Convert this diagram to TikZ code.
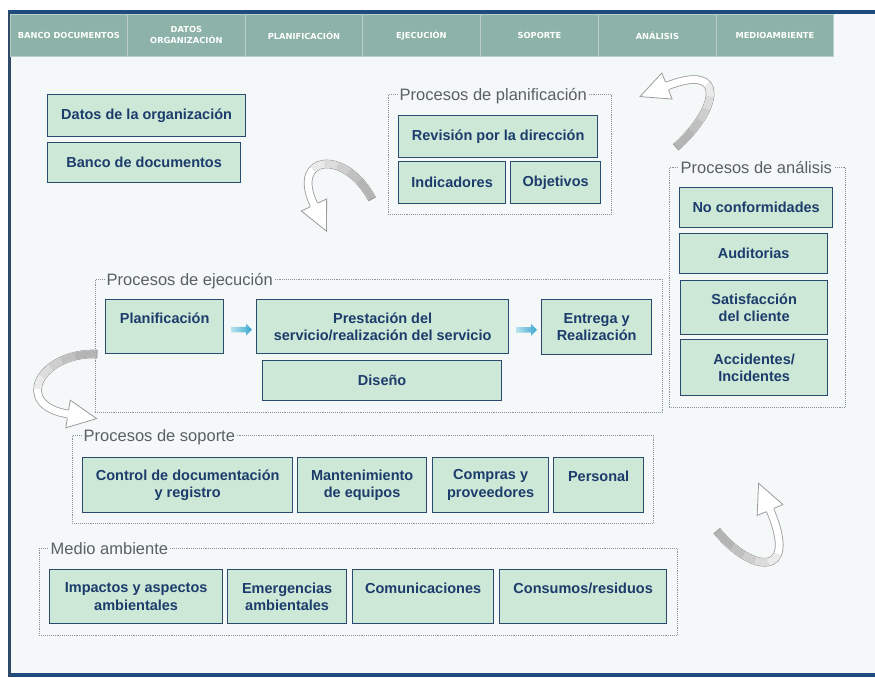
\documentclass[tikz,border=0pt]{standalone}
\usepackage{fontspec}
\setmainfont{Liberation Sans}
\newfontfamily\tabfont{DejaVu Sans}
\usetikzlibrary{shapes.arrows,calc}
\definecolor{bgc}{HTML}{F4F8F8}
\definecolor{framec}{HTML}{1F4C80}
\definecolor{leftc}{HTML}{2E4A66}
\definecolor{tabc}{HTML}{8DB3A8}
\definecolor{tabline}{HTML}{B8D0C8}
\definecolor{boxfill}{HTML}{CDE8D6}
\definecolor{boxline}{HTML}{2A4A70}
\definecolor{boxtext}{HTML}{1C3C6C}
\definecolor{grpline}{HTML}{8A9499}
\definecolor{grptext}{HTML}{5A6066}
\definecolor{arrline}{HTML}{9A9A9A}
\definecolor{rib1}{HTML}{EAEAEA}
\definecolor{rib2}{HTML}{DCDCDC}
\definecolor{rib3}{HTML}{CECECE}
\definecolor{rib4}{HTML}{C0C0C0}
\definecolor{rib5}{HTML}{B4B4B4}
\definecolor{flowa}{HTML}{B8E2EE}
\definecolor{flowb}{HTML}{3AA6D0}
% #1 start, #2 control 1, #3 control 2, #4 end (head base)
\newcommand\myribbon[4]{%
  \draw[arrline, line width=0.8pt, double=white, double distance=7pt] (#1) .. controls (#2) and (#3) .. (#4);
  \draw[rib1, line width=7pt, dash pattern=on 75pt off 2000pt] (#1) .. controls (#2) and (#3) .. (#4);
  \draw[rib2, line width=7pt, dash pattern=on 62pt off 2000pt] (#1) .. controls (#2) and (#3) .. (#4);
  \draw[rib3, line width=7pt, dash pattern=on 49pt off 2000pt] (#1) .. controls (#2) and (#3) .. (#4);
  \draw[rib4, line width=7pt, dash pattern=on 36pt off 2000pt] (#1) .. controls (#2) and (#3) .. (#4);
  \draw[rib5, line width=7pt, dash pattern=on 22pt off 2000pt] (#1) .. controls (#2) and (#3) .. (#4);
  \draw[arrline, line width=0.8pt] ($(#1)!4.2pt!90:(#2)$) -- ($(#1)!4.2pt!-90:(#2)$);
  \draw[arrline, fill=white, line width=0.8pt, line join=miter]
    ($(#4)!4.2pt!90:(#3)$) -- ($(#4)!14pt!90:(#3)$) -- ($(#4)!-29pt!(#3)$)
    -- ($(#4)!14pt!-90:(#3)$) -- ($(#4)!4.2pt!-90:(#3)$);
}
\begin{document}
\begin{tikzpicture}[x=1pt,y=-1pt,
  box/.style={draw=boxline, line width=1.3pt, fill=boxfill, text=boxtext, font=\bfseries\fontsize{14.5}{17.5}\selectfont, align=center, anchor=north west, inner sep=0pt},
  tab/.style={fill=tabc, draw=tabline, line width=0.8pt, text=white, font=\tabfont\bfseries\fontsize{8.3}{11}\selectfont, align=center, anchor=north west, minimum height=42pt, inner sep=0pt},
  grp/.style={draw=grpline, densely dotted, line width=0.9pt, anchor=north west, inner sep=0pt},
  grplabel/.style={fill=bgc, text=grptext, font=\fontsize{16.5}{18}\selectfont, inner sep=1.5pt, anchor=base west},
  flow/.style={single arrow, minimum height=21pt, minimum width=12pt, single arrow head extend=3pt, inner sep=2.5pt, left color=flowa, right color=flowb, draw=none}
]
\useasboundingbox (0,0) rectangle (875,677);
% frame
\fill[white] (0,0) rectangle (875,677);
\fill[bgc] (9,12) rectangle (875,675);
\draw[framec, line width=3.5pt] (8,12) -- (875,12);
\draw[framec, line width=3.5pt] (8,675) -- (875,675);
\draw[leftc, line width=2.2pt] (9.5,12) -- (9.5,677);
% tabs
\node[tab, minimum width=117pt] (t1) at (10,14) {BANCO DOCUMENTOS};
\node[tab, minimum width=118pt] (t2) at (127,14) {DATOS\\ORGANIZACIÓN};
\node[tab, minimum width=117pt] (t3) at (245,14) {PLANIFICACIÓN};
\node[tab, minimum width=118pt] (t4) at (362,14) {EJECUCIÓN};
\node[tab, minimum width=118pt] (t5) at (480,14) {SOPORTE};
\node[tab, minimum width=118pt] (t6) at (598,14) {ANÁLISIS};
\node[tab, minimum width=117pt] (t7) at (716,14) {MEDIOAMBIENTE};
% group frames
\node[grp, minimum width=223pt, minimum height=120pt] (gplan) at (388,94) {};
\node[grp, minimum width=176pt, minimum height=240pt] (gana) at (669,167) {};
\node[grp, minimum width=567pt, minimum height=133pt] (gejec) at (95,279) {};
\node[grp, minimum width=581pt, minimum height=88pt] (gsop) at (72,435) {};
\node[grp, minimum width=638pt, minimum height=87pt] (gmed) at (39,548) {};
\node[grplabel] (lplan) at ($(gplan.north west)+(10,6)$) {Procesos de planificación};
\node[grplabel] (lana) at ($(gana.north west)+(10,6)$) {Procesos de análisis};
\node[grplabel] (lejec) at ($(gejec.north west)+(10,6)$) {Procesos de ejecución};
\node[grplabel] (lsop) at ($(gsop.north west)+(10,6)$) {Procesos de soporte};
\node[grplabel] (lmed) at ($(gmed.north west)+(10,6)$) {Medio ambiente};
% boxes
\node[box, minimum width=198pt, minimum height=42pt] (datos) at (47,94) {Datos de la organización};
\node[box, minimum width=193pt, minimum height=40pt] (banco) at (47,142) {Banco de documentos};
\node[box, minimum width=199pt, minimum height=42pt] (revision) at (398,115) {Revisión por la dirección};
\node[box, minimum width=107pt, minimum height=42pt] (indic) at (398,161) {Indicadores};
\node[box, minimum width=90pt, minimum height=42pt] (objet) at (510,161) {Objetivos};
\node[box, minimum width=153pt, minimum height=40pt] (noconf) at (679,187) {No conformidades};
\node[box, minimum width=148pt, minimum height=40pt] (audit) at (679,233) {Auditorias};
\node[box, minimum width=147pt, minimum height=54pt] (satisf) at (680,280) {Satisfacción\\del cliente};
\node[box, minimum width=147pt, minimum height=56pt] (accid) at (680,339) {Accidentes/\\Incidentes};
\node[box, minimum width=118pt, minimum height=54pt] (plan) at (105,299) {Planificación\\\mbox{}};
\node[box, minimum width=252pt, minimum height=54pt] (prest) at (256,299) {Prestación del\\servicio/realización del servicio};
\node[box, minimum width=110pt, minimum height=55pt] (entrega) at (541,299) {Entrega y\\Realización};
\node[box, minimum width=239pt, minimum height=40pt] (diseno) at (262,360) {Diseño};
\node[box, minimum width=210pt, minimum height=55pt] (control) at (82,457) {Control de documentación\\y registro};
\node[box, minimum width=129pt, minimum height=55pt] (manten) at (297,457) {Mantenimiento\\de equipos};
\node[box, minimum width=116pt, minimum height=55pt] (compras) at (432,457) {Compras y\\proveedores};
\node[box, minimum width=90pt, minimum height=55pt] (personal) at (553,457) {Personal\\\mbox{}};
\node[box, minimum width=173pt, minimum height=54pt] (impactos) at (49,569) {Impactos y aspectos\\ambientales};
\node[box, minimum width=119pt, minimum height=54pt] (emerg) at (227,569) {Emergencias\\ambientales};
\node[box, minimum width=141pt, minimum height=54pt] (comunic) at (352,569) {Comunicaciones\\\mbox{}};
\node[box, minimum width=167pt, minimum height=54pt] (consumos) at (499,569) {Consumos/residuos\\\mbox{}};
% flow arrows
\node[flow] (f1) at ($(plan.east)!0.5!(prest.west)+(0,3)$) {};
\node[flow] (f2) at ($(prest.east)!0.5!(entrega.west)+(0,3)$) {};
% curved ribbon arrows
\coordinate (a1s) at (676,147); \coordinate (a1c) at (718,110); \coordinate (a1d) at (728,62); \coordinate (a1e) at (667,86);
\coordinate (a2s) at (372,199); \coordinate (a2c) at (345,148); \coordinate (a2d) at (290,155); \coordinate (a2e) at (314,205);
\coordinate (a3s) at (97,354);  \coordinate (a3c) at (40,352);  \coordinate (a3d) at (12,405);  \coordinate (a3e) at (68,414);
\coordinate (a4s) at (717,531); \coordinate (a4c) at (750,572); \coordinate (a4d) at (800,580); \coordinate (a4e) at (770,510);
\myribbon{a1s}{a1c}{a1d}{a1e}
\myribbon{a2s}{a2c}{a2d}{a2e}
\myribbon{a3s}{a3c}{a3d}{a3e}
\myribbon{a4s}{a4c}{a4d}{a4e}
\end{tikzpicture}
\end{document}
